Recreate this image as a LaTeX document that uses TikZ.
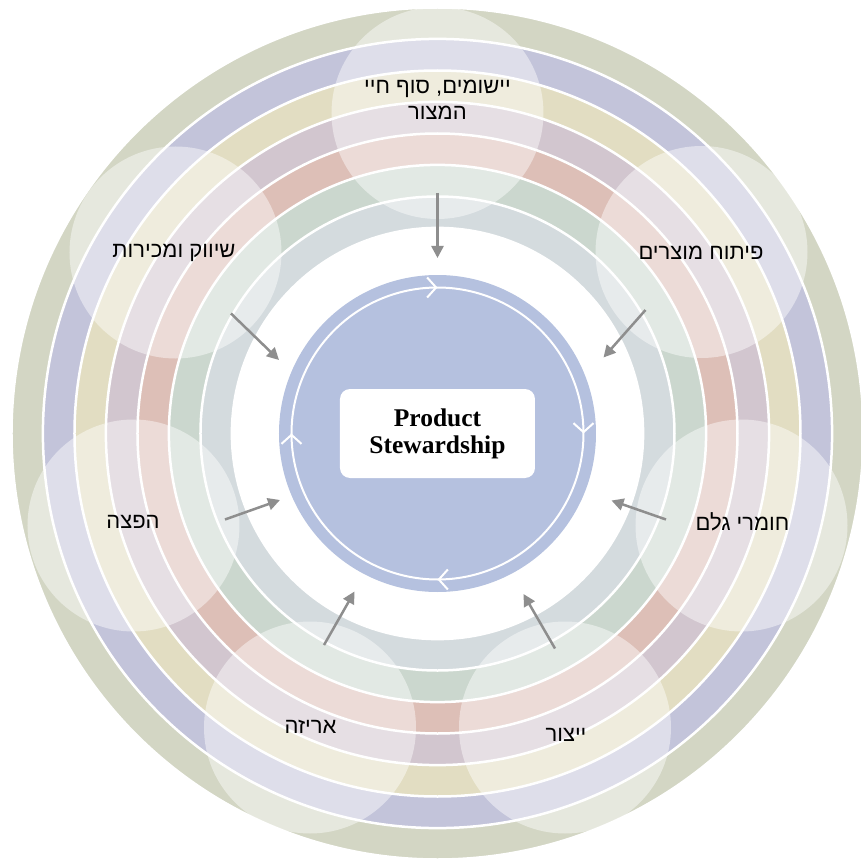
\documentclass[tikz,border=0pt]{standalone}
\usepackage{fontspec}
\setmainfont{Liberation Serif}
\newfontfamily\hebfont[Script=Hebrew]{Liberation Sans}
\TeXXeTstate=1
\usetikzlibrary{arrows.meta,decorations.markings}
\definecolor{ringA}{HTML}{D3D6C4}
\definecolor{ringB}{HTML}{C3C4DA}
\definecolor{ringC}{HTML}{E2DDC2}
\definecolor{ringD}{HTML}{D2C6CF}
\definecolor{ringE}{HTML}{DDBFB7}
\definecolor{ringF}{HTML}{CBD7CE}
\definecolor{ringG}{HTML}{D4DBDE}
\definecolor{coreblue}{HTML}{B5C1DF}
\definecolor{flowgray}{HTML}{8E8E8E}
\newcommand\hebtext[1]{\beginR #1\endR}
\newcommand\chevtip{\arrow{Straight Barb[length=9pt,width=20pt]}}

\begin{document}
\begin{tikzpicture}[x=1pt,y=1pt,
  ring/.style={draw=white,line width=2.5pt},
  bubble/.style={circle,fill=white,fill opacity=0.45,minimum size=212pt,inner sep=0pt},
  stage/.style={font=\hebfont\fontsize{22}{26}\selectfont,align=center,inner sep=0pt},
  flow/.style={draw=flowgray,line width=2.5pt,-{Triangle[length=12pt,width=12pt]}},
  cycle/.style={draw=white,line width=2pt,postaction={decorate},
    decoration={markings,
      mark=at position 0.125 with {\chevtip},
      mark=at position 0.375 with {\chevtip},
      mark=at position 0.625 with {\chevtip},
      mark=at position 0.875 with {\chevtip}}}]
\useasboundingbox (-437.5,-429.5) rectangle (423.5,433.5);
\coordinate (o) at (0,0);

% rings, outside in
\foreach \r/\c in {426/ringA,394.6/ringB,363/ringC,331.6/ringD,300/ringE,268.6/ringF,237/ringG,205.6/white}
  \draw[ring,fill=\c] (o) circle (\r);

% light circles
\node[bubble] (b-eol)  at (0,320.5)      {};
\node[bubble] (b-dev)  at (264,181.5)    {};
\node[bubble] (b-raw)  at (304,-92)      {};
\node[bubble] (b-prod) at (127.5,-294)   {};
\node[bubble] (b-pack) at (-127.5,-294)  {};
\node[bubble] (b-dist) at (-304,-92)     {};
\node[bubble] (b-mkt)  at (-262,181)     {};

% texts
\node[stage] (eol)  at (0,334)        {\hebtext{יישומים, סוף חיי}\\\hebtext{המצור}};
\node[stage] (dev)  at (263.5,181)    {\hebtext{פיתוח מוצרים}};
\node[stage] (raw)  at (305,-88.5)    {\hebtext{חומרי גלם}};
\node[stage] (prod) at (128.5,-301.5) {\hebtext{ייצור}};
\node[stage] (pack) at (-127,-293.5)  {\hebtext{אריזה}};
\node[stage] (dist) at (-304.5,-88.5) {\hebtext{הפצה}};
\node[stage] (mkt)  at (-263.5,181)   {\hebtext{שיווק ומכירות}};

% arrows to the middle
\coordinate (eol-t)  at (0,240.5);      \coordinate (eol-h)  at (0,175.5);
\coordinate (dev-t)  at (208,123.5);    \coordinate (dev-h)  at (166,76);
\coordinate (raw-t)  at (228.5,-86);    \coordinate (raw-h)  at (174,-67);
\coordinate (prod-t) at (117.5,-215);   \coordinate (prod-h) at (86,-160.5);
\coordinate (pack-t) at (-113.5,-211.5);\coordinate (pack-h) at (-83,-158);
\coordinate (dist-t) at (-212.5,-86);   \coordinate (dist-h) at (-157.5,-66.5);
\coordinate (mkt-t)  at (-206.5,120);   \coordinate (mkt-h)  at (-158.5,73.5);
\foreach \s in {eol,dev,raw,prod,pack,dist,mkt}
  \draw[flow] (\s-t) -- (\s-h);

% centre
\node[circle,fill=coreblue,minimum size=317pt,inner sep=0pt] (core) at (o) {};
\path[cycle] (o) ++(135:146) arc[start angle=135,end angle=-225,radius=146];
\node[fill=white,rounded corners=10pt,minimum width=195pt,minimum height=89pt,
  align=center,font=\bfseries\fontsize{25.5}{27}\selectfont] (title) at (o) {Product\\Stewardship};
\end{tikzpicture}
\end{document}
